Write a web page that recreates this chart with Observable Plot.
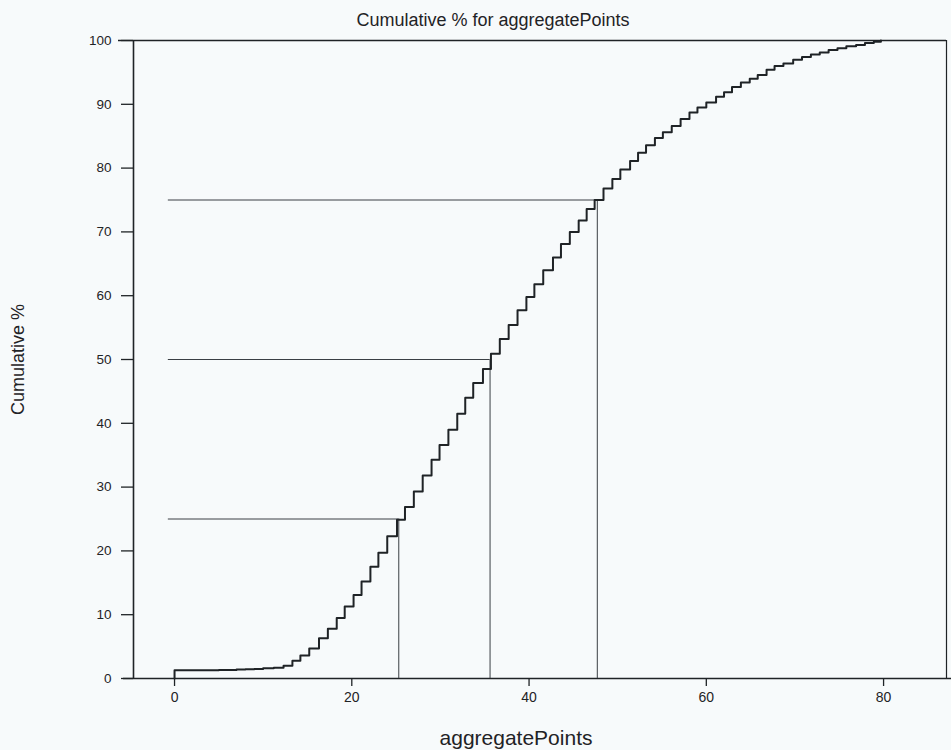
<!DOCTYPE html>
<html>
<head>
<meta charset="utf-8">
<script src="https://cdn.jsdelivr.net/npm/d3@7"></script>
<script src="https://cdn.jsdelivr.net/npm/@observablehq/plot@0.6"></script>
<style>
  html, body { margin: 0; padding: 0; background: #f7fafb; }
  #chart svg { display: block; background: #f7fafb; }
</style>
</head>
<body>
<div id="chart"></div>
<script>
// Step positions (aggregatePoints) and cumulative % after each step
const stepX = [0, 0, 5, 7, 8, 9, 10,
  11.2, 12.3, 13.3, 14.2, 15.2, 16.3, 17.3, 18.3, 19.2, 20.2, 21.1, 22.1, 23.0, 24.0,
  25.1, 26.0, 27.0, 28.0, 29.0, 29.9, 30.9, 31.9, 32.8, 33.7, 34.8, 35.7, 36.7, 37.7,
  38.7, 39.7, 40.6, 41.6, 42.7, 43.6, 44.6, 45.6, 46.5, 47.4, 48.4, 49.4,
  50.3, 51.4, 52.3, 53.2, 54.2, 55.1, 56.1, 57.1, 58.1, 59.0, 60.0,
  61.1, 62.0, 62.9, 63.9, 64.9, 65.8, 66.8, 67.7, 68.7, 69.8, 70.8, 71.8, 72.8, 73.8, 74.8, 75.8, 76.9, 77.9, 78.9, 79.7];
const cumPct = [0, 1.3, 1.35, 1.4, 1.45, 1.5, 1.6,
  1.7, 2.0, 2.8, 3.6, 4.7, 6.3, 7.8, 9.5, 11.3, 13.1, 15.2, 17.5, 19.7, 22.3,
  24.9, 26.9, 29.3, 31.8, 34.3, 36.6, 39.0, 41.5, 44.0, 46.3, 48.5, 50.9, 53.2, 55.4,
  57.7, 59.8, 61.8, 64.0, 66.0, 68.1, 70.0, 71.8, 73.6, 75.0, 76.8, 78.3,
  79.8, 81.1, 82.4, 83.6, 84.7, 85.6, 86.6, 87.7, 88.7, 89.5, 90.3,
  91.2, 91.9, 92.7, 93.4, 94.0, 94.6, 95.4, 96.0, 96.4, 97.0, 97.4, 97.8, 98.1, 98.5, 98.8, 99.1, 99.3, 99.6, 99.8, 100];

// Quartile reference lines
const quartiles = [25, 50, 75];
const quartileX = [25.3, 35.6, 47.7];
const refStartX = -0.7;

// Tick labels
const xTicks = [0, 20, 40, 60, 80];
const yTicks = [0, 10, 20, 30, 40, 50, 60, 70, 80, 90, 100];

const titleText = "Cumulative % for aggregatePoints";
const xLabel = "aggregatePoints";
const yLabel = "Cumulative %";

const data = stepX.map((x, i) => ({x, y: cumPct[i]}));
const refs = quartiles.map((q, i) => ({q, x: quartileX[i]}));

const W = 951, H = 750, mL = 133, mR = 5, mT = 40, mB = 72;
const xMin = -4.63, xMax = 87.1;
const pxPerX = (W - mL - mR) / (xMax - xMin);
const pxPerY = (H - mT - mB) / 100;
const font = "'Liberation Sans', Arial, sans-serif";
const ink = "#1f2326";

const chart = Plot.plot({
  width: W,
  height: H,
  marginLeft: mL,
  marginRight: mR,
  marginTop: mT,
  marginBottom: mB,
  style: {fontFamily: font, background: "#f7fafb", color: ink},
  x: {domain: [xMin, xMax], axis: null},
  y: {domain: [0, 100], axis: null},
  marks: [
    // frame: top line, right line, y axis line, x axis line
    Plot.ruleY([100], {x1: xMin - 15 / pxPerX, x2: xMax, stroke: ink, strokeWidth: 1.6}),
    Plot.ruleX([xMax], {y1: 0, y2: 100, stroke: ink, strokeWidth: 1.2}),
    Plot.ruleX([xMin], {y1: 0, y2: 100, stroke: ink, strokeWidth: 1.6}),
    Plot.ruleY([0], {x1: xMin - 10 / pxPerX, x2: xMax + 5 / pxPerX, stroke: ink, strokeWidth: 1.6}),
    // y ticks and labels
    Plot.ruleY(yTicks, {x1: xMin - 12 / pxPerX, x2: xMin, stroke: ink, strokeWidth: 1.3}),
    Plot.text(yTicks, {x: xMin, y: d => d, dx: -22, textAnchor: "end", fontSize: 13.5, fill: ink}),
    // x ticks and labels
    Plot.ruleX(xTicks, {y1: 0, y2: -8 / pxPerY, stroke: ink, strokeWidth: 1.3}),
    Plot.text(xTicks, {x: d => d, y: 0, dy: 19, fontSize: 14, fill: ink}),
    // quartile reference lines
    Plot.ruleY(refs, {y: "q", x1: refStartX, x2: "x", stroke: "#3a3f44", strokeWidth: 1}),
    Plot.ruleX(refs, {x: "x", y1: 0, y2: "q", stroke: "#3a3f44", strokeWidth: 1}),
    // cumulative step curve
    Plot.line(data, {x: "x", y: "y", curve: "step-after", stroke: ink, strokeWidth: 2}),
    // titles
    Plot.text([titleText], {frameAnchor: "top", lineAnchor: "middle", dx: -47, dy: -20, fontSize: 18, fill: ink, style: "letter-spacing:0.4px"}),
    Plot.text([xLabel], {frameAnchor: "bottom", lineAnchor: "middle", dx: -24, dy: 60, fontSize: 21, fill: ink, style: "letter-spacing:0.6px"}),
    Plot.text([yLabel], {frameAnchor: "left", textAnchor: "middle", lineAnchor: "middle", dx: -115, rotate: -90, fontSize: 18, fill: ink})
  ]
});
document.getElementById("chart").appendChild(chart);
</script>
</body>
</html>
